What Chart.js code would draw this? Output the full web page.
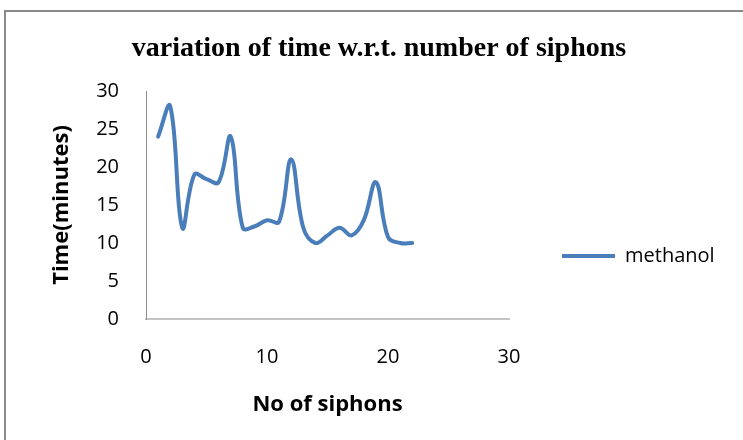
<!DOCTYPE html>
<html>
<head>
<meta charset="utf-8">
<script src="https://cdn.jsdelivr.net/npm/chart.js@4.4.1/dist/chart.umd.min.js"></script>
<style>
  html, body { margin: 0; padding: 0; background: #fff; }
  #wrap { width: 743px; height: 440px; }
</style>
</head>
<body>
<div id="wrap"><canvas id="c" width="743" height="440"></canvas></div>
<script>
// ---- data ----
const chartTitle = 'variation of time w.r.t. number of siphons';
const xAxisTitle = 'No of siphons';
const yAxisTitle = 'Time(minutes)';
const seriesLabel = 'methanol';
const siphons = [1, 2, 3, 4, 5, 6, 7, 8, 9, 10, 11, 12, 13, 14, 15, 16, 17, 18, 19, 20, 21, 22];
const timeMinutes = [24, 28, 12, 19, 18.4, 18, 24, 12, 12.2, 13, 12.8, 21, 12, 10, 11, 12, 11, 13, 18, 10.8, 10, 10];
const xTicks = [0, 10, 20, 30];
const yTicks = [0, 5, 10, 15, 20, 25, 30];

// ---- layout helpers ----
const tickFont = { family: "'Open Sans'", size: 20 };
const axisTitleFont = { family: "'Open Sans'", size: 22, weight: 'bold' };
const measureCtx = document.createElement('canvas').getContext('2d');
measureCtx.font = "20px 'Open Sans'";
const legendTextW = measureCtx.measureText(seriesLabel).width;
const plotLeft = 146, plotRight = 509;
const legendPad = 53, legendLineW = 53;
const legendW = Math.ceil(legendPad + legendLineW + tickFont.size / 2 + legendTextW) + 1;
const padRight = Math.max(0, 743 - plotRight - legendW);
const padLeft = 2 * 379 - 743 + padRight;

const framePlugin = {
  id: 'frame',
  beforeDraw(chart) {
    const ctx = chart.ctx;
    ctx.save();
    ctx.fillStyle = '#ffffff';
    ctx.fillRect(0, 0, chart.width, chart.height);
    ctx.strokeStyle = '#8a8a8a';
    ctx.lineWidth = 2;
    ctx.strokeRect(5, 11, 800, 500);
    ctx.restore();
  }
};

new Chart(document.getElementById('c'), {
  type: 'line',
  data: {
    datasets: [{
      label: seriesLabel,
      data: siphons.map((x, i) => ({ x: x, y: timeMinutes[i] })),
      borderColor: '#4a7ebb',
      backgroundColor: '#4a7ebb',
      borderWidth: 4,
      pointRadius: 0,
      tension: 0.4,
      fill: false,
      borderCapStyle: 'round',
      borderJoinStyle: 'round'
    }]
  },
  options: {
    responsive: false,
    animation: false,
    layout: { padding: { left: padLeft, right: padRight, top: 0, bottom: 0 } },
    plugins: {
      title: {
        display: true,
        text: chartTitle,
        color: '#000',
        font: { family: "'Liberation Serif'", size: 28, weight: 'bold' },
        padding: { top: 32, bottom: 25.4 }
      },
      legend: {
        display: true,
        position: 'right',
        align: 'end',
        fullSize: false,
        maxWidth: legendW,
        labels: {
          usePointStyle: true,
          pointStyle: 'line',
          pointStyleWidth: legendLineW,
          padding: legendPad,
          color: '#000',
          font: tickFont
        }
      },
      tooltip: { enabled: false }
    },
    scales: {
      x: {
        type: 'linear',
        min: xTicks[0],
        max: xTicks[xTicks.length - 1],
        afterBuildTicks: s => { s.ticks = xTicks.map(v => ({ value: v })); },
        ticks: { color: '#000', font: tickFont, padding: 26, maxRotation: 0 },
        grid: { display: false, drawTicks: false },
        border: { display: true, color: '#c4c4c4', width: 2 },
        title: { display: true, text: xAxisTitle, color: '#000', font: axisTitleFont, padding: { top: 0, bottom: 22 } },
        afterFit: s => { s.height = 121; }
      },
      y: {
        type: 'linear',
        min: yTicks[0],
        max: yTicks[yTicks.length - 1],
        afterBuildTicks: s => { s.ticks = yTicks.map(v => ({ value: v })); },
        ticks: { color: '#000', font: tickFont, padding: 27 },
        grid: { display: false, drawTicks: false },
        border: { display: true, color: '#8f8f8f', width: 1 },
        title: { display: true, text: yAxisTitle, color: '#000', font: axisTitleFont, padding: { top: 48.8 - padLeft, bottom: 0 } },
        afterFit: s => { s.width = plotLeft - padLeft; }
      }
    }
  },
  plugins: [framePlugin]
});
</script>
</body>
</html>
